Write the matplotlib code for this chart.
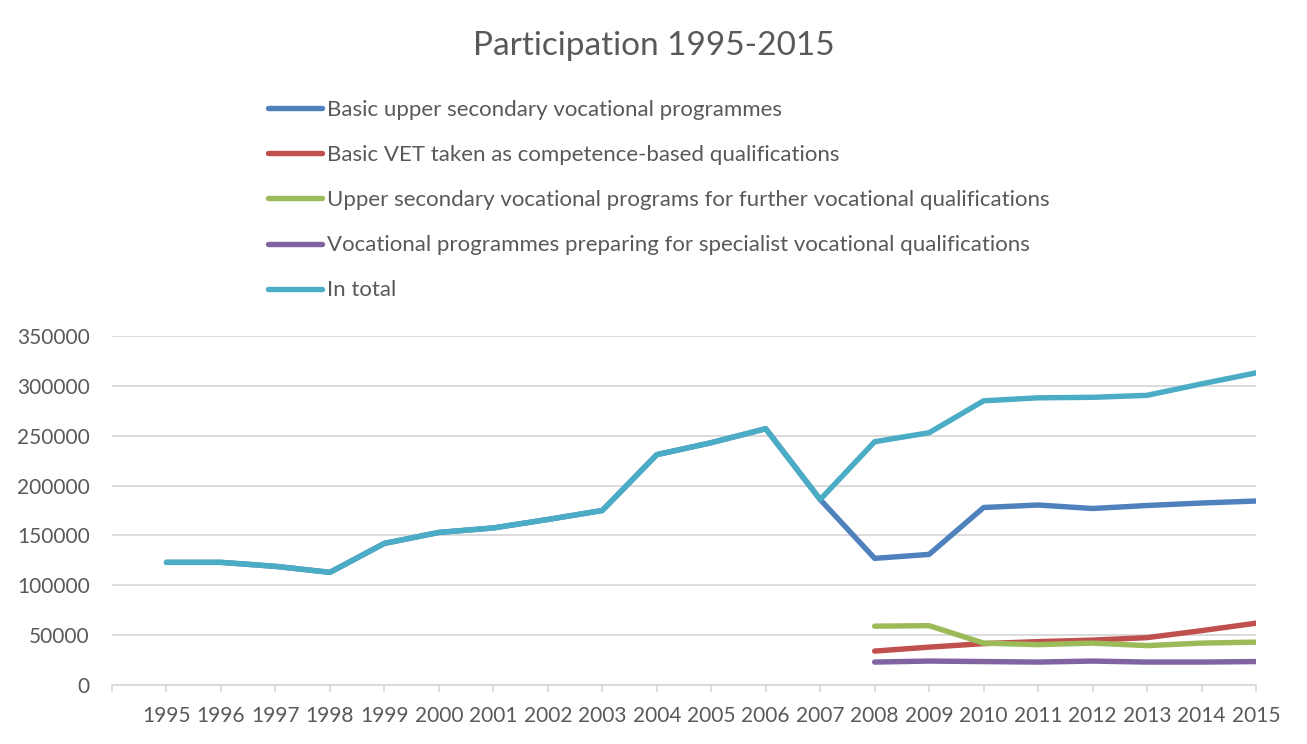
import numpy as np
import matplotlib.pyplot as plt

years = list(range(1995, 2016))
late_years = list(range(2008, 2016))

basic_upper_secondary = [123000, 123000, 119000, 113000, 142000, 153000, 157500, 166000,
                         175000, 231000, 243000, 257000, 186000, 127000, 131000, 178000,
                         180500, 177000, 180000, 182500, 184500]
basic_vet_competence = [34000, 38000, 41500, 43500, 45000, 47500, 54500, 62000]
further_vocational = [59000, 59500, 42000, 40500, 42000, 39500, 42000, 43000]
specialist_vocational = [23000, 24000, 23500, 23000, 24000, 23000, 23000, 23500]
in_total = [123000, 123000, 119000, 113000, 142000, 153000, 157500, 166000,
            175000, 231000, 243000, 257000, 186000, 244000, 253000, 285000,
            288000, 288500, 290500, 302000, 313000]

labels = ['Basic upper secondary vocational programmes',
          'Basic VET taken as competence-based qualifications',
          'Upper secondary vocational programs for further vocational qualifications',
          'Vocational programmes preparing for specialist vocational qualifications',
          'In total']
colors = ['#4F81BD', '#C0504D', '#9BBB59', '#8064A2', '#4BACC6']

plt.rcParams['font.family'] = ['Lato', 'DejaVu Sans']
text_color = '#595959'
grid_color = '#D9D9D9'

fig = plt.figure(figsize=(13.07, 7.44), dpi=100)
ax = fig.add_axes([112 / 1307, 59 / 744, 1144 / 1307, 349 / 744])

series = [(years, basic_upper_secondary), (late_years, basic_vet_competence),
          (late_years, further_vocational), (late_years, specialist_vocational),
          (years, in_total)]
for (xs, ys), lab, col in zip(series, labels, colors):
    ax.plot(xs, ys, color=col, lw=3.9, label=lab, solid_capstyle='round',
            solid_joinstyle='round')

ax.set_xlim(1994, 2015)
ax.set_ylim(0, 350000)
ax.set_yticks(np.arange(0, 350001, 50000))
ax.set_xticks(range(1994, 2016))
ax.set_xticklabels([''] + [str(y) for y in years])
ax.grid(axis='y', color=grid_color, lw=1.3)
ax.set_axisbelow(True)
for side in ['top', 'right', 'left']:
    ax.spines[side].set_visible(False)
ax.spines['bottom'].set_color(grid_color)
ax.spines['bottom'].set_linewidth(1.3)
ax.tick_params(axis='y', length=0, pad=16, labelsize=15, labelcolor=text_color)
ax.tick_params(axis='x', length=5, width=1.3, color=grid_color, pad=10,
               labelsize=15, labelcolor=text_color)

fig.text(0.5, 1 - 46 / 744, 'Participation 1995-2015', ha='center', va='center',
         fontsize=24, color=text_color)

handles, labs = ax.get_legend_handles_labels()
leg = fig.legend(handles, labs, loc='upper left', bbox_to_anchor=(268 / 1307, 1 - 100 / 744),
                 frameon=False, fontsize=16, handlelength=2.45, handletextpad=0.22,
                 labelspacing=1.13, borderpad=0, borderaxespad=0)
for t in leg.get_texts():
    t.set_color(text_color)

fig.savefig('out.png', dpi=100)
